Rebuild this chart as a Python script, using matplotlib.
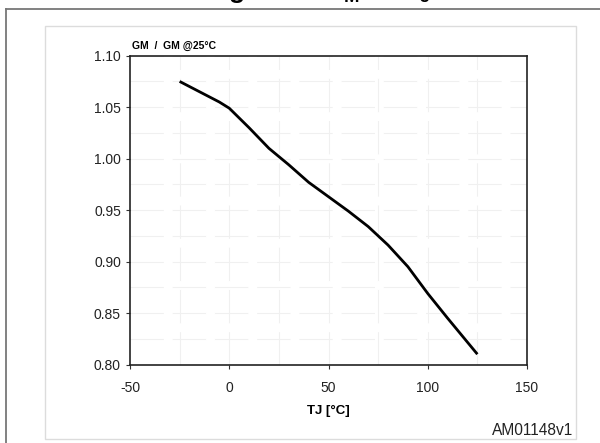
import numpy as np
import matplotlib
matplotlib.use("Agg")
import matplotlib.pyplot as plt
from matplotlib.patches import Rectangle
from matplotlib.lines import Line2D

plt.rcParams['font.family'] = ['Liberation Sans', 'DejaVu Sans']
plt.rcParams['mathtext.fontset'] = 'custom'
plt.rcParams['mathtext.rm'] = 'Liberation Sans'
plt.rcParams['mathtext.bf'] = 'Liberation Sans:bold'
plt.rcParams['axes.unicode_minus'] = False

# data
tj = [-25, -15, -10, -5, 0, 10, 20, 25, 30, 40, 50, 60, 70, 80, 90, 100, 110, 125]
gm_norm = [1.075, 1.065, 1.060, 1.055, 1.049, 1.030, 1.010, 1.002, 0.994, 0.977,
           0.963, 0.949, 0.934, 0.916, 0.895, 0.869, 0.845, 0.810]

x_ticks = [-50, 0, 50, 100, 150]
y_ticks = [0.80, 0.85, 0.90, 0.95, 1.00, 1.05, 1.10]

W, H = 600, 443
fig = plt.figure(figsize=(6, 4.43), dpi=100)

def fx(px):
    return px / W

def fy(py):
    return 1 - py / H

# outer frame (only top and left edges are visible)
fig.add_artist(Line2D([fx(6), fx(6)], [fy(9), 0], color='#777777', lw=1.3))
fig.add_artist(Line2D([fx(6), 1], [fy(9), fy(9)], color='#777777', lw=1.3))
# inner light box
fig.add_artist(Rectangle((fx(45), fy(439)), fx(576) - fx(45), fy(26) - fy(439),
                         fill=False, edgecolor='#dcdcdc', lw=1))

# cut-off title at the very top (only descenders show, as in the source)
fig.text(0.53, 1 + 2 / H, r"Figure 9. G$_\mathbf{M}$ vs T$_\mathbf{J}$",
         ha='center', va='baseline', fontsize=19, fontweight='bold')

ax = fig.add_axes([fx(130), fy(364.5), fx(527) - fx(130), fy(55.7) - fy(364.5)])

# faint grid every 25 degC / 0.025
for gx in np.arange(-25, 150, 25):
    ax.axvline(gx, color='#f0f0f0', lw=0.8, dashes=[30, 8], zorder=0)
for gy in np.arange(0.825, 1.10, 0.025):
    ax.axhline(gy, color='#f0f0f0', lw=0.8, dashes=[30, 8], zorder=0)

ax.plot(tj, gm_norm, color='black', lw=2, solid_capstyle='butt')

ax.set_xlim(-50, 150)
ax.set_ylim(0.80, 1.10)
ax.set_xticks(x_ticks)
ax.set_yticks(y_ticks)
ax.set_yticklabels([f"{v:.2f}" for v in y_ticks])
ax.tick_params(axis='both', labelsize=10, length=3, width=0.8, color='#333333',
               labelcolor='#222222')
ax.tick_params(axis='x', pad=9)
for s in ax.spines.values():
    s.set_linewidth(1.2)
    s.set_color('#222222')

ax.set_xlabel("TJ [°C]", fontsize=9.5, fontweight='bold', labelpad=7)
fig.text(fx(132), fy(46), "GM  /  GM @25°C", fontsize=7.5, fontweight='bold',
         ha='left', va='center')
fig.text(fx(573), fy(435), "AM01148v1", fontsize=11.2, ha='right', va='baseline',
         color='#222222')

fig.savefig("out.png", dpi=100)
